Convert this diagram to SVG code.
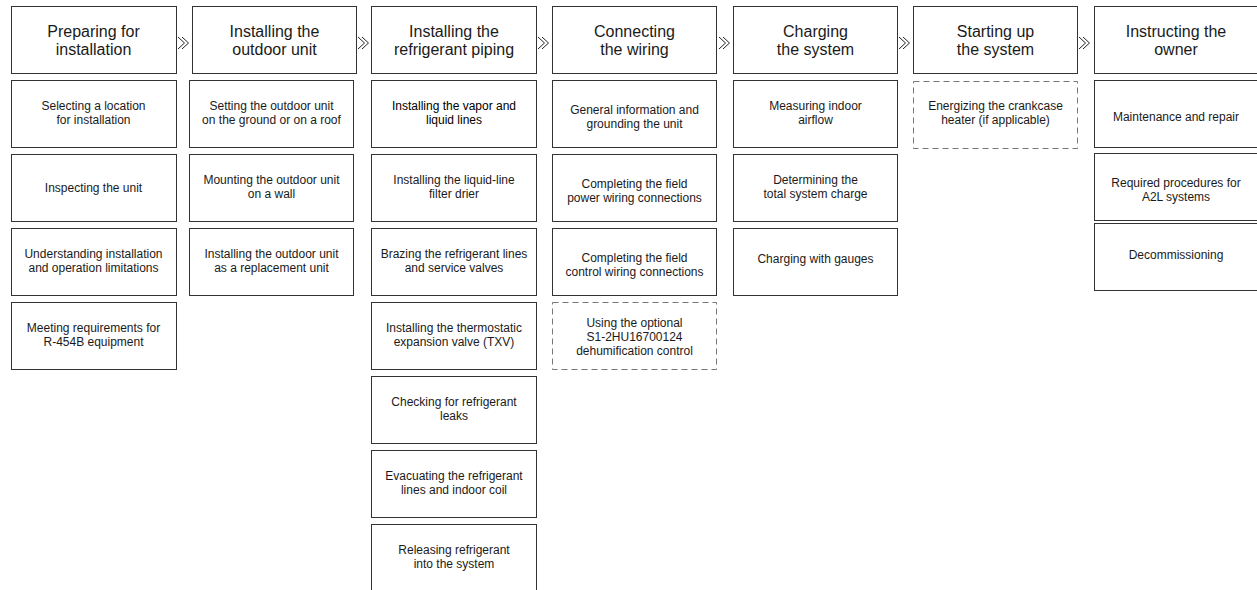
<svg xmlns="http://www.w3.org/2000/svg" width="1257" height="590" viewBox="0 0 1257 590">
<style>
.box{fill:#fff;stroke:#333;stroke-width:1}
.dash{fill:#fff;stroke:#777;stroke-width:1;stroke-dasharray:6 4}
.h{font-family:"Liberation Sans",Arial,sans-serif;font-size:16px;fill:#1a1a1a;text-anchor:middle}
.t{font-family:"Liberation Sans",Arial,sans-serif;font-size:12px;fill:#1a1a1a;text-anchor:middle}
.arr{fill:none;stroke:#222;stroke-width:1}
</style>
<rect width="1257" height="590" fill="#fff"/>

<g id="col1">
<g id="h1"><rect class="box" x="11.5" y="6.5" width="165" height="67"/><text class="h" x="93.5" y="36.5">Preparing for</text><text class="h" x="93.5" y="54.5">installation</text></g>
<g id="c1r1"><rect class="box" x="11.5" y="80.5" width="165" height="67"/><text class="t" x="93.5" y="110">Selecting a location</text><text class="t" x="93.5" y="124">for installation</text></g>
<g id="c1r2"><rect class="box" x="11.5" y="154.5" width="165" height="67"/><text class="t" x="93.5" y="191.5">Inspecting the unit</text></g>
<g id="c1r3"><rect class="box" x="11.5" y="228.5" width="165" height="67"/><text class="t" x="93.5" y="258">Understanding installation</text><text class="t" x="93.5" y="272">and operation limitations</text></g>
<g id="c1r4"><rect class="box" x="11.5" y="302.5" width="165" height="67"/><text class="t" x="93.5" y="332">Meeting requirements for</text><text class="t" x="93.5" y="346">R-454B equipment</text></g>
</g>

<g id="col2">
<g id="h2"><rect class="box" x="192.5" y="6.5" width="164" height="67"/><text class="h" x="274.5" y="36.5">Installing the</text><text class="h" x="274.5" y="54.5">outdoor unit</text></g>
<g id="c2r1"><rect class="box" x="189.5" y="80.5" width="164" height="67"/><text class="t" x="271.5" y="110">Setting the outdoor unit</text><text class="t" x="271.5" y="124">on the ground or on a roof</text></g>
<g id="c2r2"><rect class="box" x="189.5" y="154.5" width="164" height="67"/><text class="t" x="271.5" y="184">Mounting the outdoor unit</text><text class="t" x="271.5" y="198">on a wall</text></g>
<g id="c2r3"><rect class="box" x="189.5" y="228.5" width="164" height="67"/><text class="t" x="271.5" y="258">Installing the outdoor unit</text><text class="t" x="271.5" y="272">as a replacement unit</text></g>
</g>

<g id="col3">
<g id="h3"><rect class="box" x="371.5" y="6.5" width="165" height="67"/><text class="h" x="454" y="36.5">Installing the</text><text class="h" x="454" y="54.5">refrigerant piping</text></g>
<g id="c3r1"><rect class="box" x="371.5" y="80.5" width="165" height="67"/><text class="t" x="454" y="110" style="fill:#000">Installing the vapor and</text><text class="t" x="454" y="124" style="fill:#000">liquid lines</text></g>
<g id="c3r2"><rect class="box" x="371.5" y="154.5" width="165" height="67"/><text class="t" x="454" y="184">Installing the liquid-line</text><text class="t" x="454" y="198">filter drier</text></g>
<g id="c3r3"><rect class="box" x="371.5" y="228.5" width="165" height="67"/><text class="t" x="454" y="258">Brazing the refrigerant lines</text><text class="t" x="454" y="272">and service valves</text></g>
<g id="c3r4"><rect class="box" x="371.5" y="302.5" width="165" height="67"/><text class="t" x="454" y="332">Installing the thermostatic</text><text class="t" x="454" y="346">expansion valve (TXV)</text></g>
<g id="c3r5"><rect class="box" x="371.5" y="376.5" width="165" height="67"/><text class="t" x="454" y="406">Checking for refrigerant</text><text class="t" x="454" y="420">leaks</text></g>
<g id="c3r6"><rect class="box" x="371.5" y="450.5" width="165" height="67"/><text class="t" x="454" y="480">Evacuating the refrigerant</text><text class="t" x="454" y="494">lines and indoor coil</text></g>
<g id="c3r7"><rect class="box" x="371.5" y="524.5" width="165" height="67"/><text class="t" x="454" y="554">Releasing refrigerant</text><text class="t" x="454" y="568">into the system</text></g>
</g>

<g id="col4">
<g id="h4"><rect class="box" x="552.5" y="6.5" width="164" height="67"/><text class="h" x="634.5" y="36.5">Connecting</text><text class="h" x="634.5" y="54.5">the wiring</text></g>
<g id="c4r1"><rect class="box" x="552.5" y="80.5" width="164" height="67"/><text class="t" x="634.5" y="114">General information and</text><text class="t" x="634.5" y="128">grounding the unit</text></g>
<g id="c4r2"><rect class="box" x="552.5" y="154.5" width="164" height="67"/><text class="t" x="634.5" y="188">Completing the field</text><text class="t" x="634.5" y="202">power wiring connections</text></g>
<g id="c4r3"><rect class="box" x="552.5" y="228.5" width="164" height="67"/><text class="t" x="634.5" y="262">Completing the field</text><text class="t" x="634.5" y="276">control wiring connections</text></g>
<g id="c4r4"><rect class="dash" x="552.5" y="302.5" width="164" height="67"/><text class="t" x="634.5" y="327">Using the optional</text><text class="t" x="634.5" y="341">S1-2HU16700124</text><text class="t" x="634.5" y="355">dehumification control</text></g>
</g>

<g id="col5">
<g id="h5"><rect class="box" x="733.5" y="6.5" width="164" height="67"/><text class="h" x="815.5" y="36.5">Charging</text><text class="h" x="815.5" y="54.5">the system</text></g>
<g id="c5r1"><rect class="box" x="733.5" y="80.5" width="164" height="67"/><text class="t" x="815.5" y="110">Measuring indoor</text><text class="t" x="815.5" y="124">airflow</text></g>
<g id="c5r2"><rect class="box" x="733.5" y="154.5" width="164" height="67"/><text class="t" x="815.5" y="184">Determining the</text><text class="t" x="815.5" y="198">total system charge</text></g>
<g id="c5r3"><rect class="box" x="733.5" y="228.5" width="164" height="67"/><text class="t" x="815.5" y="263">Charging with gauges</text></g>
</g>

<g id="col6">
<g id="h6"><rect class="box" x="913.5" y="6.5" width="164" height="67"/><text class="h" x="995.5" y="36.5">Starting up</text><text class="h" x="995.5" y="54.5">the system</text></g>
<g id="c6r1"><rect class="dash" x="913.5" y="81.5" width="164" height="67"/><text class="t" x="995.5" y="110">Energizing the crankcase</text><text class="t" x="995.5" y="124">heater (if applicable)</text></g>
</g>

<g id="col7">
<g id="h7"><rect class="box" x="1094.5" y="6.5" width="168" height="67"/><text class="h" x="1176" y="36.5">Instructing the</text><text class="h" x="1176" y="54.5">owner</text></g>
<g id="c7r1"><rect class="box" x="1094.5" y="80.5" width="168" height="67"/><text class="t" x="1176" y="121">Maintenance and repair</text></g>
<g id="c7r2"><rect class="box" x="1094.5" y="153.5" width="168" height="67"/><text class="t" x="1176" y="187">Required procedures for</text><text class="t" x="1176" y="201">A2L systems</text></g>
<g id="c7r3"><rect class="box" x="1094.5" y="223.5" width="168" height="67"/><text class="t" x="1176" y="258.5">Decommissioning</text></g>
</g>

<g id="connectors">
<polyline class="arr" points="178,37 184.5,43 178,49"/><polyline class="arr" points="182,37 188.5,43 182,49"/>
<polyline class="arr" points="358,37 364.5,43 358,49"/><polyline class="arr" points="362,37 368.5,43 362,49"/>
<polyline class="arr" points="538,37 544.5,43 538,49"/><polyline class="arr" points="542,37 548.5,43 542,49"/>
<polyline class="arr" points="719,37 725.5,43 719,49"/><polyline class="arr" points="723,37 729.5,43 723,49"/>
<polyline class="arr" points="899,37 905.5,43 899,49"/><polyline class="arr" points="903,37 909.5,43 903,49"/>
<polyline class="arr" points="1079,37 1085.5,43 1079,49"/><polyline class="arr" points="1083,37 1089.5,43 1083,49"/>
</g>
</svg>
